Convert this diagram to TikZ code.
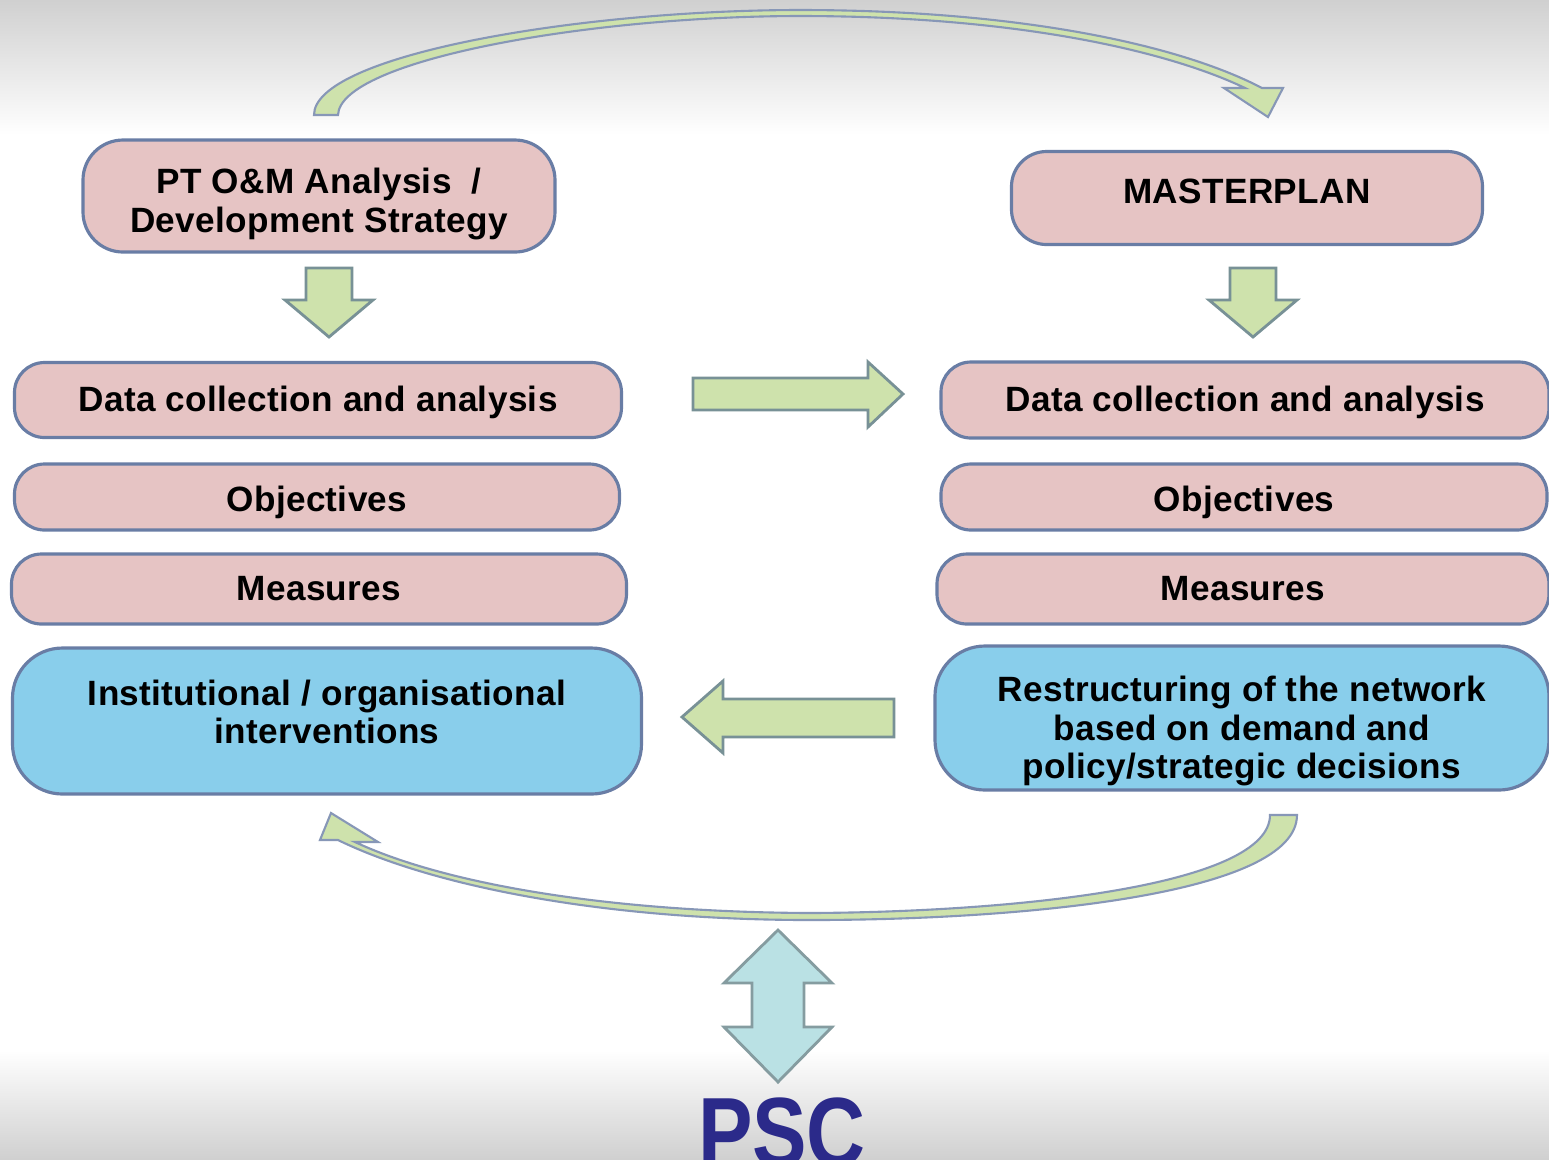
\documentclass[tikz,border=0pt]{standalone}
\usepackage{fontspec}
\setmainfont{Liberation Sans}
\definecolor{boxpink}{RGB}{230,196,196}
\definecolor{boxblue}{RGB}{137,206,235}
\definecolor{boxline}{RGB}{105,125,165}
\definecolor{arrowgreen}{RGB}{206,226,172}
\definecolor{arrowline}{RGB}{120,145,150}
\definecolor{linkteal}{RGB}{186,225,228}
\definecolor{pscblue}{RGB}{43,42,138}
\definecolor{bggray}{RGB}{208,208,208}
\begin{document}
\begin{tikzpicture}[
			pinkbox/.style={draw=boxline, fill=boxpink, line width=0.9pt, rounded corners=0.3cm, inner sep=0pt},
			bluebox/.style={pinkbox, fill=boxblue, rounded corners=0.5cm},
			boxtext/.style={align=center, inner sep=0pt, font=\fontsize{10}{11}\selectfont\bfseries\addfontfeature{LetterSpace=1.0}},
			greenarrow/.style={draw=arrowline, fill=arrowgreen, line width=0.8pt, line join=miter},
			curvearrow/.style={draw=boxline!80, fill=arrowgreen, line width=0.6pt}
		]
		\useasboundingbox (0,0) rectangle (15.49,-11.59);
		\clip (0,0) rectangle (15.49,-11.59);
		\fill[white] (0,0) rectangle (15.49,-11.59);
		\shade[top color=bggray, bottom color=white] (0,0) rectangle (15.49,-1.35);
		\shade[top color=white, bottom color=bggray] (0,-10.5) rectangle (15.49,-11.59);

		\node[pinkbox, minimum width=4.72cm, minimum height=1.12cm, rounded corners=0.4cm] (ptom) at (3.19,-1.96) {};
		\node[boxtext] (ptomtext) at ([yshift=-0.08cm]ptom.center) {PT O\&M Analysis\ \ /\\Development Strategy};
		\node[pinkbox, minimum width=4.71cm, minimum height=0.93cm, rounded corners=0.35cm] (master) at (12.47,-1.98) {};
		\node[boxtext] (mastertext) at ([yshift=0.07cm]master.center) {MASTERPLAN};

		\node[pinkbox, minimum width=6.07cm, minimum height=0.75cm] (ldata) at (3.18,-4.00) {};
		\node[boxtext] (ldatatext) at ([yshift=-0.02cm]ldata.center) {Data collection and analysis};
		\node[pinkbox, minimum width=6.05cm, minimum height=0.66cm] (lobj) at (3.17,-4.97) {};
		\node[boxtext] (lobjtext) at ([yshift=-0.05cm]lobj.center) {Objectives};
		\node[pinkbox, minimum width=6.15cm, minimum height=0.70cm] (lmeas) at (3.19,-5.89) {};
		\node[boxtext] (lmeastext) at (lmeas.center) {Measures};
		\node[bluebox, minimum width=6.29cm, minimum height=1.46cm] (linst) at (3.27,-7.21) {};
		\node[boxtext] (linsttext) at ([yshift=0.09cm]linst.center) {Institutional / organisational\\interventions};

		\node[pinkbox, minimum width=6.08cm, minimum height=0.76cm] (rdata) at (12.45,-4.00) {};
		\node[boxtext] (rdatatext) at ([yshift=-0.02cm]rdata.center) {Data collection and analysis};
		\node[pinkbox, minimum width=6.06cm, minimum height=0.66cm] (robj) at (12.44,-4.97) {};
		\node[boxtext] (robjtext) at ([yshift=-0.05cm]robj.center) {Objectives};
		\node[pinkbox, minimum width=6.12cm, minimum height=0.70cm] (rmeas) at (12.43,-5.89) {};
		\node[boxtext] (rmeastext) at (rmeas.center) {Measures};
		\node[bluebox, minimum width=6.14cm, minimum height=1.44cm] (rrest) at (12.42,-7.18) {};
		\node[boxtext] (rresttext) at ([yshift=-0.13cm]rrest.center) {Restructuring of the network\\based on demand and\\policy/strategic decisions};

		\draw[greenarrow] (3.06,-2.68) -- (3.52,-2.68) -- (3.52,-3.00) -- (3.73,-3.00) -- (3.29,-3.37) -- (2.85,-3.00) -- (3.06,-3.00) -- cycle;
		\draw[greenarrow] (12.30,-2.68) -- (12.76,-2.68) -- (12.76,-3.00) -- (12.97,-3.00) -- (12.53,-3.37) -- (12.09,-3.00) -- (12.30,-3.00) -- cycle;

		\draw[greenarrow] (6.93,-3.78) -- (8.68,-3.78) -- (8.68,-3.62) -- (9.03,-3.94) -- (8.68,-4.27) -- (8.68,-4.10) -- (6.93,-4.10) -- cycle;
		\draw[greenarrow] (8.94,-6.99) -- (7.23,-6.99) -- (7.23,-6.81) -- (6.82,-7.17) -- (7.23,-7.53) -- (7.23,-7.37) -- (8.94,-7.37) -- cycle;

		\draw[curvearrow] (3.14,-1.15) .. controls (3.14,-0.55) and (5.8,-0.10) .. (8.0,-0.10)
			.. controls (10.2,-0.10) and (11.8,-0.45) .. (12.62,-0.88)
			-- (12.83,-0.88) -- (12.68,-1.17) -- (12.24,-0.88) -- (12.45,-0.88)
			.. controls (11.7,-0.52) and (10.2,-0.16) .. (8.0,-0.16)
			.. controls (5.9,-0.16) and (3.40,-0.60) .. (3.38,-1.15) -- cycle;

		\draw[curvearrow] (12.97,-8.15) .. controls (12.97,-8.95) and (10.2,-9.20) .. (8.1,-9.20)
			.. controls (6.0,-9.20) and (4.3,-8.85) .. (3.38,-8.40)
			-- (3.20,-8.40) -- (3.31,-8.13) -- (3.78,-8.42) -- (3.55,-8.42)
			.. controls (4.4,-8.82) and (6.0,-9.12) .. (8.1,-9.13)
			.. controls (10.2,-9.12) and (12.70,-8.85) .. (12.70,-8.15) -- cycle;

		\draw[greenarrow, draw=arrowline!90, fill=linkteal] (7.78,-9.30) -- (8.32,-9.83) -- (8.04,-9.83) -- (8.04,-10.27) -- (8.32,-10.27) -- (7.78,-10.82) -- (7.24,-10.27) -- (7.52,-10.27) -- (7.52,-9.83) -- (7.24,-9.83) -- cycle;

		\node[anchor=base, xscale=0.83, inner sep=0pt, text=pscblue, font=\fontsize{28}{30}\selectfont\bfseries] (psc) at (7.82,-11.66) {PSC};
	\end{tikzpicture}
\end{document}
